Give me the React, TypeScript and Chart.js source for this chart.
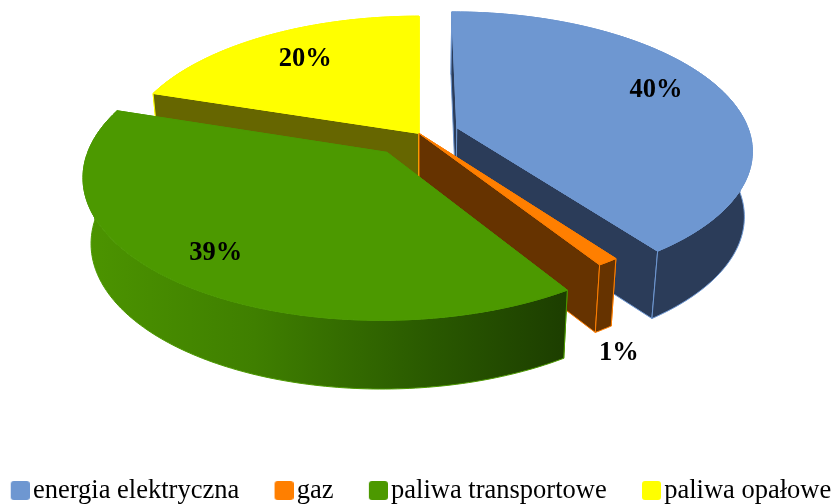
import React, { useEffect, useRef } from "react";
import { Chart, registerables } from "chart.js";

Chart.register(...registerables);

const categories = ["energia elektryczna", "gaz", "paliwa transportowe", "paliwa opałowe"];
const shares = [40, 1, 39, 20];
const topColors = ["#6e97d1", "#ff7f00", "#4c9900", "#ffff00"];
const radialWallColors = ["#2b3c59", "#663300", "#1f4400", "#666600"];
const explode = [40, 0, 51, 0];
const paintOrder = [3, 0, 1, 2];
const labelRadius = [0.75, 1.05, 0.82, 0.72];
const labelDrop = [-8, 84, -1, -2];

const FONT = '"Liberation Serif"';
const FONT_SIZE = 26.5;
const TILT = 0.462;
const PERSPECTIVE = 0.155;
const DEPTH = 65;
const DEPTH_GROWTH = 0.02;
const DEPTH_SCALE = 0.976;
const CENTER_SHIFT = 2;

function legendSwatch(color: string) {
  const c = document.createElement("canvas");
  c.width = 21;
  c.height = 19;
  const g = c.getContext("2d")!;
  g.fillStyle = color;
  g.beginPath();
  g.roundRect(2, 0, 19, 19, 3);
  g.fill();
  return c;
}

const pie3d = {
  id: "pie3d",
  afterLayout(chart: any) {
    const legend = chart.legend;
    const h = legend.bottom - legend.top;
    legend.left += 4;
    legend.right += 4;
    legend.top = 434;
    legend.bottom = 434 + h;
  },
  beforeDatasetDraw(chart: any, args: any) {
    const ctx = chart.ctx as CanvasRenderingContext2D;
    const arcs = chart.getDatasetMeta(args.index).data;

    const project = (el: any, u: number, v: number) => {
      const R = el.outerRadius;
      const s = 1 / (1 - (PERSPECTIVE * v) / R);
      return { x: el.x + CENTER_SHIFT + u * s, y: el.y + v * TILT * s };
    };
    const lower = (el: any, p: { x: number; y: number }) => ({
      x: el.x + CENTER_SHIFT + (p.x - el.x - CENTER_SHIFT) * DEPTH_SCALE,
      y: p.y + DEPTH + (p.y - el.y) * DEPTH_GROWTH,
    });
    const poly = (pts: { x: number; y: number }[]) => {
      ctx.beginPath();
      pts.forEach((p, i) => (i ? ctx.lineTo(p.x, p.y) : ctx.moveTo(p.x, p.y)));
      ctx.closePath();
    };
    const paint = (fill: any, stroke: string) => {
      ctx.fillStyle = fill;
      ctx.fill();
      ctx.strokeStyle = stroke;
      ctx.lineWidth = 1;
      ctx.stroke();
    };

    for (const i of paintOrder) {
      const el = arcs[i];
      const R = el.outerRadius;
      const mid = (el.startAngle + el.endAngle) / 2;
      const off = el.options.offset;
      const ou = off * Math.cos(mid);
      const ov = off * Math.sin(mid);
      const apex = project(el, ou, ov);
      const rim: { x: number; y: number }[] = [];
      const back: { x: number; y: number }[] = [];
      const front: { x: number; y: number }[] = [];
      const steps = Math.max(2, Math.ceil(((el.endAngle - el.startAngle) * 180) / Math.PI));
      for (let k = 0; k <= steps; k++) {
        const a = el.startAngle + ((el.endAngle - el.startAngle) * k) / steps;
        const p = project(el, ou + R * Math.cos(a), ov + R * Math.sin(a));
        rim.push(p);
        (Math.sin(a) >= 0 ? front : back).push(p);
      }
      const color = topColors[i];
      const wall = radialWallColors[i];

      let outer: any = wall;
      if (i === 2) {
        const g = ctx.createLinearGradient(85, 0, 570, 0);
        g.addColorStop(0, "#4c9400");
        g.addColorStop(0.35, "#3f7f00");
        g.addColorStop(0.7, "#2a5a00");
        g.addColorStop(1, "#1c3d00");
        outer = g;
      }
      const strip = (pts: { x: number; y: number }[]) => {
        if (pts.length < 2) return;
        poly([...pts, ...pts.map((p) => lower(el, p)).reverse()]);
        paint(outer, color);
      };

      // far part of the curved wall, then radial walls, then near part
      strip(back);
      const first = rim[0];
      const last = rim[rim.length - 1];
      poly([apex, first, lower(el, first), lower(el, apex)]);
      paint(wall, color);
      poly([apex, last, lower(el, last), lower(el, apex)]);
      paint(wall, color);
      strip(front);

      // top face
      poly([apex, ...rim]);
      paint(color, color);
    }

    ctx.save();
    ctx.fillStyle = "#000";
    ctx.font = `bold ${FONT_SIZE}px ${FONT}`;
    ctx.textAlign = "center";
    ctx.textBaseline = "middle";
    arcs.forEach((el: any, i: number) => {
      const mid = (el.startAngle + el.endAngle) / 2;
      const r = el.options.offset + el.outerRadius * labelRadius[i];
      const p = project(el, r * Math.cos(mid), r * Math.sin(mid));
      ctx.fillText(`${shares[i]}%`, p.x, p.y + labelDrop[i]);
    });
    ctx.restore();
    return false;
  },
};

export default function App() {
  const ref = useRef<HTMLCanvasElement | null>(null);
  useEffect(() => {
    document.body.style.margin = "0";
    const chart = new Chart(ref.current!, {
      type: "pie",
      data: {
        labels: categories,
        datasets: [
          {
            data: shares,
            backgroundColor: topColors,
            offset: explode,
            borderWidth: 0,
          },
        ],
      },
      options: {
        responsive: false,
        animation: false,
        radius: 293,
        layout: { padding: { left: -92, right: -100, bottom: 157.5 } },
        plugins: {
          tooltip: { enabled: false },
          title: { display: false },
          legend: {
            position: "bottom",
            labels: {
              usePointStyle: true,
              boxWidth: 1,
              padding: 43.3,
              color: "#000",
              font: { family: FONT, size: FONT_SIZE },
              generateLabels: () =>
                categories.map((text, i) => ({
                  text,
                  fillStyle: topColors[i],
                  strokeStyle: topColors[i],
                  lineWidth: 0,
                  hidden: false,
                  index: i,
                  pointStyle: legendSwatch(topColors[i]),
                })),
            },
          },
        },
      } as any,
      plugins: [pie3d],
    });
    return () => chart.destroy();
  }, []);
  return <canvas ref={ref} width={834} height={504} style={{ display: "block" }} />;
}
